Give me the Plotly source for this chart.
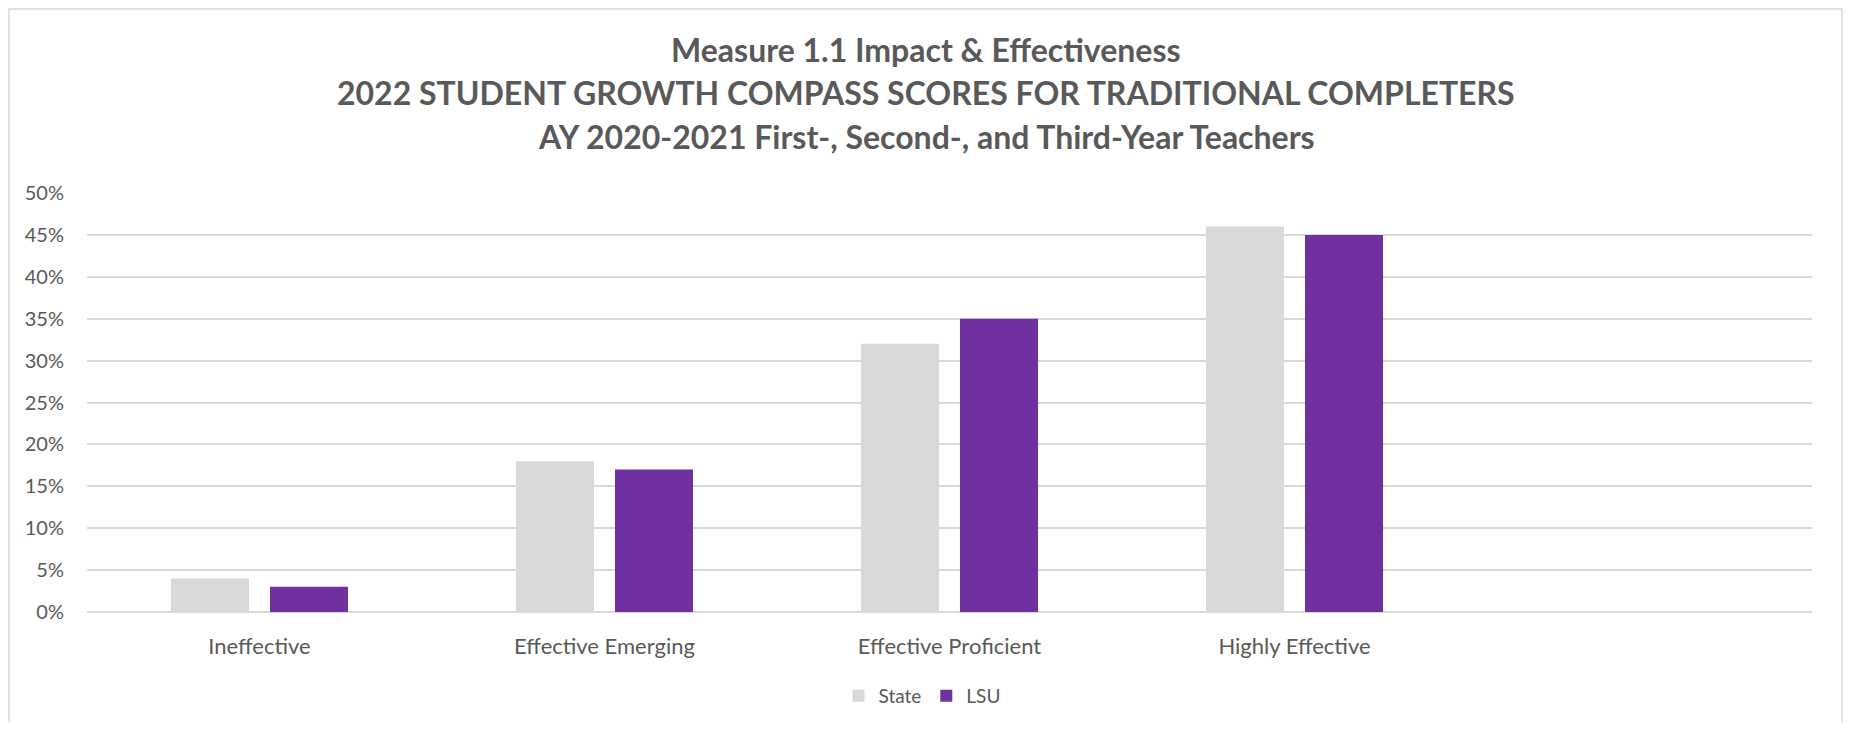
import plotly.graph_objects as go

categories = ["Ineffective", "Effective Emerging", "Effective Proficient", "Highly Effective"]
state_values = [0.04, 0.18, 0.32, 0.46]
lsu_values = [0.03, 0.17, 0.35, 0.45]
series_names = ["State", "LSU"]
y_tick_values = [0, 0.05, 0.10, 0.15, 0.20, 0.25, 0.30, 0.35, 0.40, 0.45, 0.50]
title_lines = [
    "Measure 1.1 Impact & Effectiveness",
    "2022 STUDENT GROWTH COMPASS SCORES FOR TRADITIONAL COMPLETERS",
    "AY 2020-2021 First-, Second-, and Third-Year Teachers",
]

FONT = "Lato"
OFF = 8  # page body margin
W, H = 1853 - 2 * OFF, 730 - 2 * OFF
# plot area in page pixels: x 87..1812, y 193..612
L = 87 - OFF
R = W - (1812 - OFF)
T = 193 - OFF
B = H - (612 - OFF)
pw, ph = W - L - R, H - T - B

def px_x(x):
    return (x - OFF - L) / pw

def px_y(y):
    return (H - B - (y - OFF)) / ph

fig = go.Figure()
fig.add_trace(go.Bar(x=categories, y=state_values, name=series_names[0],
                     marker=dict(color="#D9D9D9", line=dict(width=0))))
fig.add_trace(go.Bar(x=categories, y=lsu_values, name=series_names[1],
                     marker=dict(color="#7030A0", line=dict(width=0))))

annotations = []
for line, yc in zip(title_lines, [50, 93, 137]):
    annotations.append(dict(text="<b>" + line + "</b>", x=px_x(926), xref="paper", xanchor="center",
                            y=px_y(yc), yref="paper", yanchor="middle", showarrow=False,
                            font=dict(family=FONT, size=32, color="#595959")))

fig.update_layout(
    width=W, height=H,
    margin=dict(l=L, r=R, t=T, b=B, autoexpand=False),
    paper_bgcolor="white", plot_bgcolor="white",
    barmode="group", bargap=0.426, bargroupgap=0.212,
    font=dict(family=FONT, color="#595959", size=19),
    showlegend=True,
    legend=dict(orientation="h", x=px_x(922), xanchor="center", y=px_y(696), yanchor="middle",
                font=dict(family=FONT, size=19, color="#595959"), itemsizing="constant",
                traceorder="normal", itemwidth=30),
    annotations=annotations,
    shapes=[dict(type="rect", xref="paper", yref="paper",
                 x0=px_x(9), x1=px_x(1842), y0=px_y(790), y1=px_y(9),
                 line=dict(color="#D9D9D9", width=1.5), fillcolor="rgba(0,0,0,0)", layer="below")],
)
fig.update_xaxes(range=[-0.5, 4.5], showgrid=False, showline=False, ticks="",
                 ticklabelstandoff=19,
                 tickfont=dict(family=FONT, size=22, color="#595959"))
fig.update_yaxes(range=[0, 0.5], tickvals=y_tick_values, tickformat=".0%",
                 showgrid=True, gridcolor="#D9D9D9", gridwidth=1.5,
                 zeroline=True, zerolinecolor="#D9D9D9", zerolinewidth=1.5,
                 showline=False, ticks="", ticklabelstandoff=22,
                 tickfont=dict(family=FONT, size=20, color="#595959"))

fig.write_html("out.html")
